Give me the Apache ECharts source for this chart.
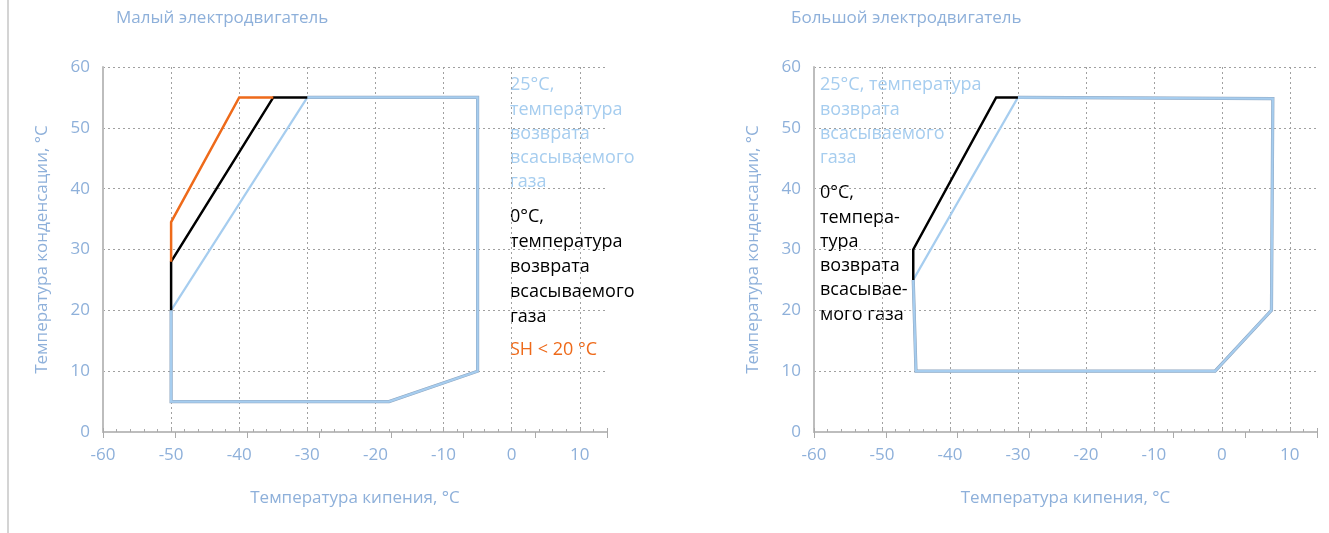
<!DOCTYPE html>
<html>
<head>
<meta charset="utf-8">
<script src="https://cdn.jsdelivr.net/npm/echarts@6/dist/echarts.min.js"></script>
<style>
html,body{margin:0;padding:0;background:#fff;}
#chart{width:1329px;height:533px;}
</style>
</head>
<body>
<div id="chart"></div>
<script>
// ---- data ----
const panelTitles = ['Малый электродвигатель', 'Большой электродвигатель'];
const xAxisName = 'Температура кипения, °C';
const yAxisName = 'Температура конденсации, °C';
const xRange = [-60, 14];
const yRange = [0, 60];

// Small motor
const smallBlue25 = [[-50, 20], [-30, 55], [-5, 55], [-5, 10], [-18, 5], [-50, 5], [-50, 20]];
const smallBlueEdge = [[-30, 55], [-5, 55], [-5, 10], [-18, 5], [-50, 5], [-50, 20]];
const smallBlack0 = [[-50, 20], [-50, 28], [-35, 55], [-30, 55]];
const smallOrangeSH = [[-50, 28], [-50, 34.5], [-40, 55], [-35, 55]];

// Big motor
const bigBlue25 = [[-45.4, 25], [-30, 55], [7.5, 54.8], [7.3, 20], [-1, 10], [-45, 10], [-45.4, 25]];
const bigBlueEdge = [[-30, 55], [7.5, 54.8], [7.3, 20], [-1, 10], [-45, 10], [-45.4, 25]];
const bigBlack0 = [[-45.4, 25], [-45.4, 30], [-33.2, 55], [-30, 55]];

const smallLabels = {
  blue: '25°C,\nтемпература\nвозврата\nвсасываемого\nгаза',
  black: '0°C,\nтемпература\nвозврата\nвсасываемого\nгаза',
  orange: 'SH < 20 °C'
};
const bigLabels = {
  blue: '25°C, температура\nвозврата\nвсасываемого\nгаза',
  black: '0°C,\nтемпера-\nтура\nвозврата\nвсасывае-\nмого газа'
};

// ---- styles ----
const FONT = '"Open Sans", "Noto Sans", sans-serif';
const AXIS_TEXT = '#8eb0da';
const BLUE = '#a6cdef';
const EDGE = '#8ea5bf';
const BLACK = '#000000';
const ORANGE = '#ee6a1a';

const grids = [
  { left: 103, top: 67, width: 504, height: 365 },
  { left: 814, top: 67, width: 503, height: 365 }
];

function xAxes(gi) {
  return [{
    type: 'value', gridIndex: gi, position: 'bottom',
    min: xRange[0], max: xRange[1], interval: 10,
    name: xAxisName, nameLocation: 'middle', nameGap: 58,
    nameTextStyle: { color: AXIS_TEXT, fontSize: 17, fontFamily: FONT },
    axisLine: { show: true, onZero: false, lineStyle: { color: '#bdbdbd', width: 2 } },
    axisTick: { show: true, inside: true, length: 4, lineStyle: { color: '#aaaaaa' } },
    minorTick: { show: true, splitNumber: 5, length: 3, lineStyle: { color: '#aaaaaa' } },
    axisLabel: { color: AXIS_TEXT, fontSize: 17, fontFamily: FONT, margin: 15, showMaxLabel: false },
    splitLine: { show: true, showMaxLine: false, showMinLine: false, lineStyle: { color: '#a0a0a0', type: [2, 3], width: 1 } }
  }, {
    type: 'value', gridIndex: gi, position: 'bottom',
    min: xRange[0], max: 10, interval: 10,
    axisLine: { show: false },
    axisTick: { show: true, inside: false, length: 6, lineStyle: { color: '#aaaaaa' } },
    axisLabel: { show: false },
    splitLine: { show: false }
  }];
}
function yAxis(gi) {
  return {
    type: 'value', gridIndex: gi,
    min: yRange[0], max: yRange[1], interval: 10,
    name: yAxisName, nameLocation: 'middle', nameGap: 52, nameRotate: 90,
    nameTextStyle: { color: AXIS_TEXT, fontSize: 17, fontFamily: FONT },
    axisLine: { show: true, onZero: false, lineStyle: { color: '#bdbdbd', width: 2 } },
    axisTick: { show: false },
    axisLabel: { color: AXIS_TEXT, fontSize: 17, fontFamily: FONT, margin: 13 },
    splitLine: { show: true, showMinLine: false, lineStyle: { color: '#a0a0a0', type: [2, 3], width: 1 } }
  };
}
function line(data, color, width, xi, yi, z) {
  return {
    type: 'line', data: data, xAxisIndex: xi, yAxisIndex: yi, z: z,
    symbol: 'none', silent: true, animation: false,
    lineStyle: { color: color, width: width, join: 'miter' }
  };
}
function text(str, x, y, color, lh) {
  return {
    type: 'text', x: x, y: y, silent: true,
    style: { text: str, fill: color, font: '18px ' + FONT, lineHeight: lh, textVerticalAlign: 'top' }
  };
}

const option = {
  backgroundColor: '#ffffff',
  animation: false,
  title: [
    { text: panelTitles[0], left: 111, top: 5, textStyle: { color: AXIS_TEXT, fontSize: 17, fontWeight: 'normal', fontFamily: FONT } },
    { text: panelTitles[1], left: 786, top: 5, textStyle: { color: AXIS_TEXT, fontSize: 17, fontWeight: 'normal', fontFamily: FONT } }
  ],
  grid: grids,
  xAxis: xAxes(0).concat(xAxes(1)),
  yAxis: [yAxis(0), yAxis(1)],
  series: [
    line(smallBlueEdge, EDGE, 3.2, 0, 0, 2),
    line(smallBlue25, BLUE, 2.2, 0, 0, 3),
    line(smallBlack0, BLACK, 2.5, 0, 0, 4),
    line(smallOrangeSH, ORANGE, 2.5, 0, 0, 5),
    line(bigBlueEdge, EDGE, 3.2, 2, 1, 2),
    line(bigBlue25, BLUE, 2.2, 2, 1, 3),
    line(bigBlack0, BLACK, 2.5, 2, 1, 4)
  ],
  graphic: [
    { type: 'rect', shape: { x: 7, y: 0, width: 2, height: 533 }, style: { fill: '#d4d4d4' }, silent: true },
    text(smallLabels.blue, 510, 73, BLUE, 24.3),
    text(smallLabels.black, 510, 204, BLACK, 25),
    text(smallLabels.orange, 510, 338, ORANGE, 24),
    text(bigLabels.blue, 820, 73, BLUE, 24.3),
    text(bigLabels.black, 820, 181, BLACK, 24.3)
  ]
};

const chart = echarts.init(document.getElementById('chart'), null, { renderer: 'canvas' });
chart.setOption(option);
</script>
</body>
</html>
